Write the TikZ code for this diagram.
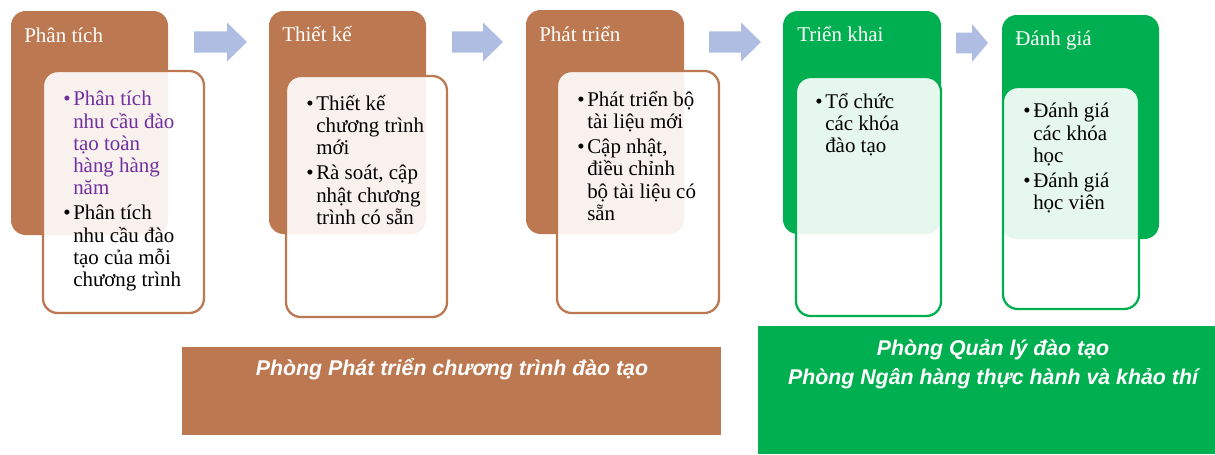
\documentclass[tikz,border=0pt]{standalone}
\usepackage{fontspec}
\setmainfont{Liberation Serif}
\setsansfont{Liberation Sans}
\usetikzlibrary{fit}
\definecolor{brn}{RGB}{188,120,80}
\definecolor{grn}{RGB}{0,176,80}
\definecolor{arw}{RGB}{176,189,226}
\definecolor{purp}{RGB}{112,48,160}
\newcommand\bul{\makebox[7.5pt][l]{\textbullet}}
\newcommand\ind{\hspace*{7.5pt}}
\newcommand\blockarrow[5]{% x1 x2 headstart ycenter halfhead
  \fill[arw] (#1,#4-#5*0.54) -- (#3,#4-#5*0.54) -- (#3,#4-#5) -- (#2,#4) -- (#3,#4+#5) -- (#3,#4+#5*0.54) -- (#1,#4+#5*0.54) -- cycle;}
\tikzset{
  outerbrn/.style={fill=brn, rounded corners=11pt, inner sep=0pt},
  outergrn/.style={fill=grn, rounded corners=11pt, inner sep=0pt},
  innerbrn/.style={draw=brn, line width=1.7pt, fill=white, fill opacity=0.9, rounded corners=11pt, inner sep=0pt},
  innergrn/.style={draw=grn, line width=1.7pt, fill=white, fill opacity=0.9, rounded corners=11pt, inner sep=0pt},
  hdr/.style={text=white, font=\fontsize{15.75}{17}\selectfont, inner sep=0pt, anchor=base west},
  body/.style={text=black, font=\fontsize{15.7}{16.7}\selectfont, inner sep=0pt, align=left, anchor=north west},
  dept/.style={text=white, font=\sffamily\bfseries\itshape\fontsize{16}{18}\selectfont, inner sep=0pt, anchor=base},
}
\begin{document}
\begin{tikzpicture}[x=0.75pt,y=-0.75pt]
\useasboundingbox (0,0) rectangle (1215,454);
% outer boxes
\node[outerbrn, fit={(11,11) (168,235)}] (o1) {};
\node[outerbrn, fit={(269,11) (426,234)}] (o2) {};
\node[outerbrn, fit={(526,10) (684,234)}] (o3) {};
\node[outergrn, fit={(783,11) (941,234)}] (o4) {};
\node[outergrn, fit={(1002,15) (1159,239)}] (o5) {};
% inner boxes
\node[innerbrn, fit={(43,71) (204,313)}] (i1) {};
\node[innerbrn, fit={(286,76) (447,317)}] (i2) {};
\node[innerbrn, fit={(557,71) (719,313)}] (i3) {};
\node[innergrn, fit={(796,77) (941,316)}] (i4) {};
\node[innergrn, fit={(1003,87) (1139,309)}] (i5) {};
% headers
\node[hdr] (h1) at (24,42) {Phân tích};
\node[hdr] (h2) at (282,41) {Thiết kế};
\node[hdr] (h3) at (539,41) {Phát triển};
\node[hdr] (h4) at (797,41) {Triển khai};
\node[hdr] (h5) at (1015,45) {Đánh giá};
% bodies
\node[body] (t1) at (63,91) {\textcolor{purp}{\bul Phân tích}\\ \textcolor{purp}{\ind nhu cầu đào}\\ \textcolor{purp}{\ind tạo toàn}\\ \textcolor{purp}{\ind hàng hàng}\\ \textcolor{purp}{\ind năm}\\[2pt] \bul Phân tích\\ \ind nhu cầu đào\\ \ind tạo của mỗi\\ \ind chương trình};
\node[body] (t2) at (306,95) {\bul Thiết kế\\ \ind chương trình\\ \ind mới\\[2pt] \bul Rà soát, cập\\ \ind nhật chương\\ \ind trình có sẵn};
\node[body] (t3) at (577,91) {\bul Phát triển bộ\\ \ind tài liệu mới\\[2pt] \bul Cập nhật,\\ \ind điều chỉnh\\ \ind bộ tài liệu có\\ \ind sẵn};
\node[body] (t4) at (815,93) {\bul Tổ chức\\ \ind các khóa\\ \ind đào tạo};
\node[body] (t5) at (1023,103) {\bul Đánh giá\\ \ind các khóa\\ \ind học\\[2pt] \bul Đánh giá\\ \ind học viên};
% arrows
\blockarrow{194}{247}{227}{42}{19.5}
\blockarrow{452}{503}{483}{42}{19.5}
\blockarrow{709}{761}{741}{42}{19.5}
\blockarrow{956}{988}{972}{43}{19}
% departments
\node[fill=brn, inner sep=0pt, fit={(182,347) (721,435)}] (d1) {};
\node[fill=grn, inner sep=0pt, fit={(758,326) (1215,454)}] (d2) {};
\node[dept] (dt1) at (452,375) {Phòng Phát triển chương trình đào tạo};
\node[dept] (dt2) at (993,355) {Phòng Quản lý đào tạo};
\node[dept] (dt3) at (993,384) {Phòng Ngân hàng thực hành và khảo thí};
\end{tikzpicture}
\end{document}
